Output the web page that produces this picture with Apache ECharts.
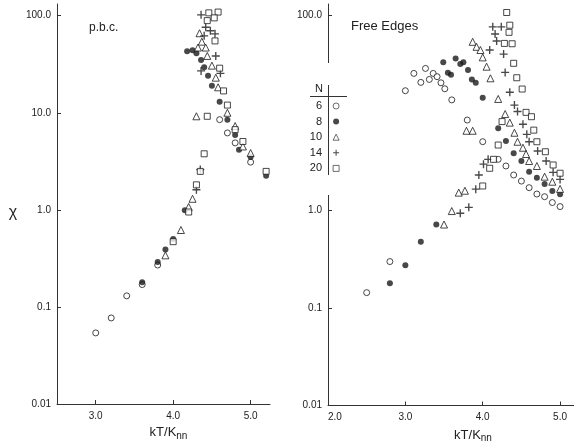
<!DOCTYPE html>
<html><head><meta charset="utf-8">
<script src="https://cdn.jsdelivr.net/npm/echarts@6/dist/echarts.min.js"></script>
<style>html,body{margin:0;padding:0;background:#fff}#c{width:574px;height:442px}</style>
</head><body><div id="c"></div>
<script>
// ---- tick labels ----
const yTicks = [0.01, 0.1, 1, 10, 100];
const yTickLabels = ['0.01', '0.1', '1.0', '10.0', '100.0'];
const yTicksFree = [0.01, 0.1, 1, 100];
const xTicksPbc = [3, 4, 5];
const xTicksFree = [2, 3, 4, 5];
const xTickMarksFree = [3, 4, 5];
const legendNames = ['6', '8', '10', '14', '20'];

// ---- p.b.c. panel  [kT/Knn, chi] ----
const pbcN6 = [[3.0,0.054],[3.2,0.077],[3.4,0.13],[3.6,0.17],[3.8,0.27],[4.6,8.5],[4.7,6.2],[4.8,4.9],[5.0,3.1]];
const pbcN8 = [[3.6,0.18],[3.8,0.29],[3.9,0.39],[4.0,0.50],[4.15,0.99],[4.18,43],[4.25,44],[4.3,41],[4.36,35],[4.4,29.5],[4.45,24],[4.5,19],[4.6,13],[4.7,8.5],[4.8,5.9],[4.85,4.15],[5.0,3.5],[5.2,2.24]];
const pbcN10 = [[3.9,0.34],[4.1,0.62],[4.2,1.07],[4.25,1.3],[4.3,9.2],[4.32,47],[4.34,66],[4.37,54],[4.42,47],[4.44,38.5],[4.5,30.6],[4.55,23],[4.58,18.3],[4.7,10],[4.8,7.3],[4.9,4.5],[5.0,3.85]];
const pbcN14 = [[4.3,1.61],[4.35,2.6],[4.36,102],[4.42,76],[4.48,70],[4.54,65],[4.4,62],[4.55,38.5],[4.36,27],[4.61,25.5]];
const pbcN20 = [[4.0,0.47],[4.2,0.95],[4.3,1.81],[4.35,2.49],[4.4,3.78],[4.44,9.2],[4.46,107],[4.58,109],[4.44,89],[4.53,95],[4.54,55],[4.6,28.8],[4.65,16.8],[4.7,12.0],[4.8,6.7],[4.9,5.06],[5.2,2.49]];

// ---- Free Edges panel ----
const freeN6 = [[2.5,0.144],[2.8,0.30],[3.0,17.0],[3.11,25.6],[3.2,20.7],[3.26,28.8],[3.31,22.2],[3.36,25.6],[3.41,23.7],[3.46,20.5],[3.51,17.8],[3.6,13.7],[3.8,8.5],[4.0,5.1],[4.2,3.36],[4.3,2.87],[4.4,2.32],[4.5,2.01],[4.6,1.72],[4.7,1.48],[4.8,1.39],[4.9,1.21],[5.0,1.10]];
const freeN8 = [[2.8,0.18],[3.0,0.275],[3.2,0.48],[3.4,0.72],[3.49,33.3],[3.55,26],[3.59,24.8],[3.65,36.4],[3.71,31.9],[3.75,33.3],[3.81,27.7],[3.86,22.2],[3.91,20.5],[4.0,14.4],[4.2,7.0],[4.3,5.17],[4.4,3.87],[4.5,3.23],[4.6,2.51],[4.7,2.18],[4.8,1.88],[4.9,1.59],[5.0,1.47]];
const freeN10 = [[3.5,0.72],[3.6,0.99],[3.69,1.53],[3.77,1.60],[3.79,6.6],[3.87,6.6],[3.87,54],[3.92,48],[3.97,44.5],[4.0,37.4],[4.05,30],[4.1,22.8],[4.2,14.0],[4.29,9.8],[4.35,8.0],[4.41,6.3],[4.45,5.09],[4.52,4.42],[4.56,3.81],[4.6,3.23],[4.7,2.87],[4.8,2.23],[4.9,1.98],[5.0,1.67]];
const freeN14 = [[3.71,0.94],[3.82,1.08],[3.91,1.66],[3.95,2.32],[4.01,3.0],[4.07,3.36],[4.13,77],[4.24,77],[4.16,65],[4.18,55],[4.09,44.5],[4.27,40.4],[4.29,26.2],[4.35,16.4],[4.41,12.1],[4.45,10.4],[4.52,7.7],[4.57,6.07],[4.6,5.09],[4.71,4.09],[4.82,3.23],[4.91,2.47],[5.0,2.09]];
const freeN20 = [[4.0,1.79],[4.09,2.72],[4.14,3.36],[4.2,4.71],[4.25,8.2],[4.31,108],[4.35,80],[4.34,67.6],[4.28,52],[4.38,51.6],[4.4,32.5],[4.44,23.1],[4.51,17.7],[4.56,10.2],[4.63,9.2],[4.66,6.7],[4.7,5.09],[4.81,4.02],[4.91,2.94],[5.0,2.42]];

const pbcSets = [pbcN6, pbcN8, pbcN10, pbcN14, pbcN20];
const freeSets = [freeN6, freeN8, freeN10, freeN14, freeN20];

const INK = '#1a1a1a';
const FONT = 'Liberation Sans, Arial, sans-serif';
const plusPath = 'path://M4.15,0H5.85V4.15H10V5.85H5.85V10H4.15V5.85H0V4.15H4.15Z';
const markStyles = [
  {symbol: 'circle', size: 6, itemStyle: {color: '#fff', borderColor: INK, borderWidth: 1}},
  {symbol: 'circle', size: 6, itemStyle: {color: INK, borderWidth: 0}},
  {symbol: 'triangle', size: 7, itemStyle: {color: '#fff', borderColor: INK, borderWidth: 1}},
  {symbol: plusPath, size: 8, itemStyle: {color: INK, borderWidth: 0}},
  {symbol: 'rect', size: 6, itemStyle: {color: '#fff', borderColor: INK, borderWidth: 1}}
];

function yFmt(v) {
  const i = yTicks.findIndex(t => Math.abs(Math.log10(t) - Math.log10(v)) < 1e-6);
  return i >= 0 ? yTickLabels[i] : '';
}

const axisLine = {lineStyle: {color: '#333', width: 1}};
const axisTick = {inside: true, length: 4, lineStyle: {color: '#333', width: 1}};
const labelStyle = {color: '#222', fontSize: 10, fontFamily: FONT};
const nameRich = {
  a: {fontSize: 13, fontFamily: FONT, color: '#222'},
  s: {fontSize: 10, fontFamily: FONT, color: '#222', padding: [7, 0, 0, 0]}
};

const series = [];
[pbcSets, freeSets].forEach((sets, gi) => {
  sets.forEach((data, si) => {
    const st = markStyles[si];
    series.push({
      type: 'scatter', name: legendNames[si], xAxisIndex: gi, yAxisIndex: gi,
      data: data, symbol: st.symbol, symbolSize: st.size,
      itemStyle: st.itemStyle, emphasis: {disabled: true}, z: 3
    });
  });
});

const chart = echarts.init(document.getElementById('c'), null, {renderer: 'canvas'});
chart.setOption({
  animation: false,
  backgroundColor: '#fff',
  textStyle: {fontFamily: FONT},
  title: [
    {text: 'p.b.c.', left: 84, top: 17, textStyle: {fontSize: 12, fontWeight: 'normal', color: '#222', fontFamily: FONT}},
    {text: 'Free Edges', left: 346, top: 15, textStyle: {fontSize: 13, fontWeight: 'normal', color: '#222', fontFamily: FONT}}
  ],
  grid: [
    {left: 57, top: 4, width: 213, height: 400, outerBoundsMode: 'none', containLabel: false},
    {left: 328, top: 4, width: 246, height: 401.5, outerBoundsMode: 'none', containLabel: false}
  ],
  xAxis: [
    {type: 'value', gridIndex: 0, min: 2.5, max: 5.25, splitLine: {show: false},
     axisLine: axisLine, axisTick: Object.assign({customValues: xTicksPbc}, axisTick),
     axisLabel: Object.assign({customValues: xTicksPbc, margin: 7, formatter: v => v.toFixed(1)}, labelStyle),
     name: 'kT/K{s|nn}', nameLocation: 'middle', nameGap: 20,
     nameTextStyle: {rich: nameRich, fontSize: 13, color: '#222', padding: [0, 0, 0, 10]}},
    {type: 'value', gridIndex: 1, min: 2.0, max: 5.18, splitLine: {show: false},
     axisLine: axisLine, axisTick: Object.assign({customValues: xTickMarksFree}, axisTick),
     axisLabel: Object.assign({customValues: xTicksFree, margin: 7, alignMinLabel: 'left', formatter: v => v.toFixed(1)}, labelStyle),
     name: 'kT/K{s|nn}', nameLocation: 'middle', nameGap: 21,
     nameTextStyle: {rich: nameRich, fontSize: 13, color: '#222', padding: [0, 0, 0, 44]}}
  ],
  yAxis: [
    {type: 'log', logBase: 10, gridIndex: 0, min: 0.01, max: 132, splitLine: {show: false},
     axisLine: axisLine, axisTick: Object.assign({customValues: yTicks}, axisTick),
     axisLabel: Object.assign({customValues: yTicks, margin: 6, formatter: yFmt}, labelStyle)},
    {type: 'log', logBase: 10, gridIndex: 1, min: 0.01, max: 132, splitLine: {show: false},
     axisLine: axisLine, axisTick: Object.assign({customValues: yTicksFree}, axisTick),
     axisLabel: Object.assign({customValues: yTicksFree, margin: 6, formatter: yFmt}, labelStyle)}
  ],
  legend: {
    data: legendNames, orient: 'vertical', align: 'right', padding: 0,
    right: 234.5, top: 99.5, itemWidth: 6, itemHeight: 6, itemGap: 2.6,
    selectedMode: false,
    itemStyle: {borderWidth: 0.8},
    textStyle: {fontSize: 11, lineHeight: 13, color: '#222', fontFamily: FONT, padding: [0, 6, 0, 0]}
  },
  graphic: [
    {type: 'rect', z: 100, shape: {x: 324, y: 63, width: 8, height: 22}, style: {fill: '#fff'}},
    {type: 'rect', z: 100, shape: {x: 324, y: 175, width: 8, height: 20}, style: {fill: '#fff'}},
    {type: 'text', z: 101, x: 319, y: 89, style: {text: 'N', fontSize: 11, fill: '#222', fontFamily: FONT, align: 'center', verticalAlign: 'middle'}},
    {type: 'line', z: 101, shape: {x1: 310, y1: 96.5, x2: 347, y2: 96.5}, style: {stroke: '#333', lineWidth: 1}},
    {type: 'text', z: 101, x: 13, y: 213, style: {text: 'χ', fontSize: 16, fill: '#222', fontFamily: FONT, align: 'center', verticalAlign: 'middle'}}
  ],
  series: series
});
</script>
</body></html>
